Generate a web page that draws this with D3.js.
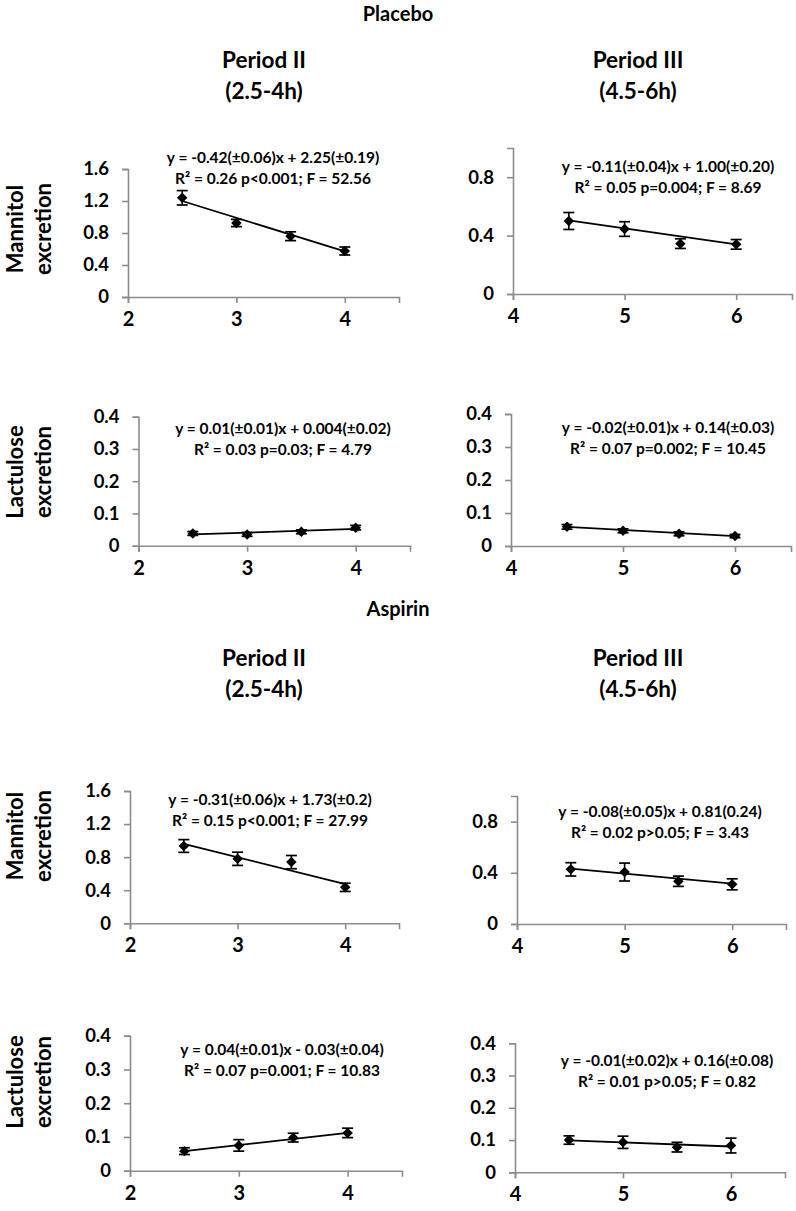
<!DOCTYPE html>
<html><head><meta charset="utf-8">
<script src="https://cdn.jsdelivr.net/npm/d3@7"></script>
<style>
body{margin:0;background:#fff;}
text{font-family:Lato,"Open Sans",sans-serif;font-weight:bold;fill:#000;}
</style></head>
<body><svg id="c" width="796" height="1211"></svg>
<script>
// ---- data ----
const xPeriodII = [2.5, 3, 3.5, 4];
const xPeriodIII = [4.5, 5, 5.5, 6];

const placeboMannitolII = [1.24, 0.925, 0.76, 0.575];
const placeboMannitolIIErr = [0.09, 0.045, 0.055, 0.05];
const placeboMannitolIII = [0.50, 0.445, 0.345, 0.34];
const placeboMannitolIIIErr = [0.058, 0.05, 0.033, 0.033];
const placeboLactuloseII = [0.038, 0.035, 0.043, 0.056];
const placeboLactuloseIIErr = [0.006, 0.006, 0.006, 0.007];
const placeboLactuloseIII = [0.058, 0.046, 0.037, 0.030];
const placeboLactuloseIIIErr = [0.007, 0.006, 0.006, 0.005];
const aspirinMannitolII = [0.935, 0.78, 0.74, 0.435];
const aspirinMannitolIIErr = [0.077, 0.08, 0.08, 0.05];
const aspirinMannitolIII = [0.427, 0.406, 0.334, 0.31];
const aspirinMannitolIIIErr = [0.052, 0.07, 0.04, 0.043];
const aspirinLactuloseII = [0.058, 0.075, 0.098, 0.112];
const aspirinLactuloseIIErr = [0.01, 0.017, 0.013, 0.014];
const aspirinLactuloseIII = [0.10, 0.093, 0.078, 0.083];
const aspirinLactuloseIIIErr = [0.013, 0.019, 0.015, 0.023];

// regression line values at first and last x
const fitPlaceboMannitolII = [1.2, 0.57];
const fitPlaceboMannitolIII = [0.505, 0.34];
const fitPlaceboLactuloseII = [0.035, 0.052];
const fitPlaceboLactuloseIII = [0.058, 0.030];
const fitAspirinMannitolII = [0.96, 0.475];
const fitAspirinMannitolIII = [0.432, 0.316];
const fitAspirinLactuloseII = [0.058, 0.112];
const fitAspirinLactuloseIII = [0.099, 0.08];

const eqPlaceboMannitolII = ["y = -0.42(\u00b10.06)x + 2.25(\u00b10.19)", "R\u00b2 = 0.26 p<0.001; F = 52.56"];
const eqPlaceboMannitolIII = ["y = -0.11(\u00b10.04)x + 1.00(\u00b10.20)", "R\u00b2 = 0.05 p=0.004; F = 8.69"];
const eqPlaceboLactuloseII = ["y = 0.01(\u00b10.01)x + 0.004(\u00b10.02)", "R\u00b2 = 0.03 p=0.03; F = 4.79"];
const eqPlaceboLactuloseIII = ["y = -0.02(\u00b10.01)x + 0.14(\u00b10.03)", "R\u00b2 = 0.07 p=0.002; F = 10.45"];
const eqAspirinMannitolII = ["y = -0.31(\u00b10.06)x + 1.73(\u00b10.2)", "R\u00b2 = 0.15 p<0.001; F = 27.99"];
const eqAspirinMannitolIII = ["y = -0.08(\u00b10.05)x + 0.81(0.24)", "R\u00b2 = 0.02 p>0.05; F = 3.43"];
const eqAspirinLactuloseII = ["y = 0.04(\u00b10.01)x - 0.03(\u00b10.04)", "R\u00b2 = 0.07 p=0.001; F = 10.83"];
const eqAspirinLactuloseIII = ["y = -0.01(\u00b10.02)x + 0.16(\u00b10.08)", "R\u00b2 = 0.01 p>0.05; F = 0.82"];

const xDomainII = [2, 4.5], xTicksII = [2, 3, 4];
const xDomainIII = [4, 6.5], xTicksIII = [4, 5, 6];
const yTicksMannitolII = [0, 0.4, 0.8, 1.2, 1.6];
const yTicksMannitolIII = [0, 0.4, 0.8];
const yTicksLactulose = [0, 0.1, 0.2, 0.3, 0.4];

const groupTitles = ["Placebo", "Aspirin"];
const periodTitles = [["Period II", "(2.5-4h)"], ["Period III", "(4.5-6h)"]];
const rowLabels = [["Mannitol", "excretion"], ["Lactulose", "excretion"]];

// ---- layout ----
const panels = [
  {x: xPeriodII, y: placeboMannitolII, e: placeboMannitolIIErr, fit: fitPlaceboMannitolII, eq: eqPlaceboMannitolII,
   xd: xDomainII, xt: xTicksII, yd: [0, 1.6], yt: yTicksMannitolII,
   L: 128, R: 399, T: 169, B: 297, eqx: 273, eqy: 163},
  {x: xPeriodIII, y: placeboMannitolIII, e: placeboMannitolIIIErr, fit: fitPlaceboMannitolIII, eq: eqPlaceboMannitolIII,
   xd: xDomainIII, xt: xTicksIII, yd: [0, 1], yt: yTicksMannitolIII,
   L: 513, R: 792, T: 148, B: 294, eqx: 668, eqy: 172},
  {x: xPeriodII, y: placeboLactuloseII, e: placeboLactuloseIIErr, fit: fitPlaceboLactuloseII, eq: eqPlaceboLactuloseII,
   xd: xDomainII, xt: xTicksII, yd: [0, 0.4], yt: yTicksLactulose,
   L: 138.5, R: 410, T: 416.7, B: 545.7, eqx: 283, eqy: 434},
  {x: xPeriodIII, y: placeboLactuloseIII, e: placeboLactuloseIIIErr, fit: fitPlaceboLactuloseIII, eq: eqPlaceboLactuloseIII,
   xd: xDomainIII, xt: xTicksIII, yd: [0, 0.4], yt: yTicksLactulose,
   L: 511, R: 791, T: 414, B: 546, eqx: 668, eqy: 433},
  {x: xPeriodII, y: aspirinMannitolII, e: aspirinMannitolIIErr, fit: fitAspirinMannitolII, eq: eqAspirinMannitolII,
   xd: xDomainII, xt: xTicksII, yd: [0, 1.6], yt: yTicksMannitolII,
   L: 130, R: 399, T: 791, B: 923.3, eqx: 270, eqy: 805},
  {x: xPeriodIII, y: aspirinMannitolIII, e: aspirinMannitolIIIErr, fit: fitAspirinMannitolIII, eq: eqAspirinMannitolIII,
   xd: xDomainIII, xt: xTicksIII, yd: [0, 1], yt: yTicksMannitolIII,
   L: 517, R: 786, T: 796, B: 924, eqx: 660, eqy: 817},
  {x: xPeriodII, y: aspirinLactuloseII, e: aspirinLactuloseIIErr, fit: fitAspirinLactuloseII, eq: eqAspirinLactuloseII,
   xd: xDomainII, xt: xTicksII, yd: [0, 0.4], yt: yTicksLactulose,
   L: 130, R: 402, T: 1035.7, B: 1170.7, eqx: 282, eqy: 1055},
  {x: xPeriodIII, y: aspirinLactuloseIII, e: aspirinLactuloseIIIErr, fit: fitAspirinLactuloseIII, eq: eqAspirinLactuloseIII,
   xd: xDomainIII, xt: xTicksIII, yd: [0, 0.4], yt: yTicksLactulose,
   L: 515, R: 785, T: 1043.3, B: 1172.3, eqx: 667, eqy: 1066}
];

const svg = d3.select("#c");
const axisColor = "#8c8c8c";
const fmt1 = d3.format(".1f");

// titles
const groupY = [21, 616];
const periodY = [[68, 99], [666, 697]];
groupTitles.forEach((t, i) => {
  svg.append("text").attr("x", 398).attr("y", groupY[i]).attr("text-anchor", "middle")
    .style("font-size", "20px").text(t);
  periodTitles.forEach((p, j) => {
    const cx = j === 0 ? 264 : 638;
    p.forEach((line, k) => {
      svg.append("text").attr("x", cx).attr("y", periodY[i][k]).attr("text-anchor", "middle")
        .style("font-size", "22.5px").text(line);
    });
  });
});

// row labels
const rowCenters = [229, 472, 836, 1082];
rowCenters.forEach((cy, i) => {
  const lab = rowLabels[i % 2];
  lab.forEach((line, k) => {
    svg.append("text").attr("transform", `translate(${23 + k * 28},${cy}) rotate(-90)`)
      .attr("text-anchor", "middle").style("font-size", "22px").text(line);
  });
});

panels.forEach(p => {
  const g = svg.append("g");
  const xs = d3.scaleLinear().domain(p.xd).range([p.L, p.R]);
  const ys = d3.scaleLinear().domain(p.yd).range([p.B, p.T]);

  const xa = g.append("g").attr("transform", `translate(0,${p.B})`)
    .call(d3.axisBottom(xs).tickValues(p.xt).tickSize(6).tickPadding(9).tickFormat(d3.format("d")));
  const ya = g.append("g").attr("transform", `translate(${p.L},0)`)
    .call(d3.axisLeft(ys).tickValues(p.yt).tickSize(6).tickPadding(13).tickFormat(d => d === 0 ? "0" : fmt1(d)));
  [xa, ya].forEach(a => {
    a.select(".domain").attr("stroke", axisColor).attr("stroke-width", 1.6);
    a.selectAll(".tick line").attr("stroke", axisColor).attr("stroke-width", 1.6);
    a.selectAll("text").attr("fill", "#000").style("font-size", "18.5px").style("font-weight", "bold")
      .style("font-family", "Lato, sans-serif");
  });
  xa.selectAll("text").style("font-size", "20px");

  // regression line
  g.append("line")
    .attr("x1", xs(p.x[0])).attr("y1", ys(p.fit[0]))
    .attr("x2", xs(p.x[p.x.length - 1])).attr("y2", ys(p.fit[1]))
    .attr("stroke", "#000").attr("stroke-width", 1.8);

  // error bars
  const pts = p.x.map((x, i) => ({x, y: p.y[i], e: p.e[i]}));
  const eb = g.selectAll(".eb").data(pts).enter().append("g");
  eb.append("line").attr("x1", d => xs(d.x)).attr("x2", d => xs(d.x))
    .attr("y1", d => ys(d.y + d.e)).attr("y2", d => ys(d.y - d.e))
    .attr("stroke", "#000").attr("stroke-width", 1.6);
  [1, -1].forEach(s => {
    eb.append("line").attr("x1", d => xs(d.x) - 5.5).attr("x2", d => xs(d.x) + 5.5)
      .attr("y1", d => ys(d.y + s * d.e)).attr("y2", d => ys(d.y + s * d.e))
      .attr("stroke", "#000").attr("stroke-width", 1.7);
  });
  // diamonds
  g.selectAll(".pt").data(pts).enter().append("path")
    .attr("d", d3.symbol(d3.symbolDiamond2, 70))
    .attr("transform", d => `translate(${xs(d.x)},${ys(d.y)})`)
    .attr("fill", "#000");

  // equation
  p.eq.forEach((line, k) => {
    g.append("text").attr("x", p.eqx).attr("y", p.eqy + k * 21).attr("text-anchor", "middle")
      .style("font-size", "15.5px").text(line);
  });
});
</script></body></html>
